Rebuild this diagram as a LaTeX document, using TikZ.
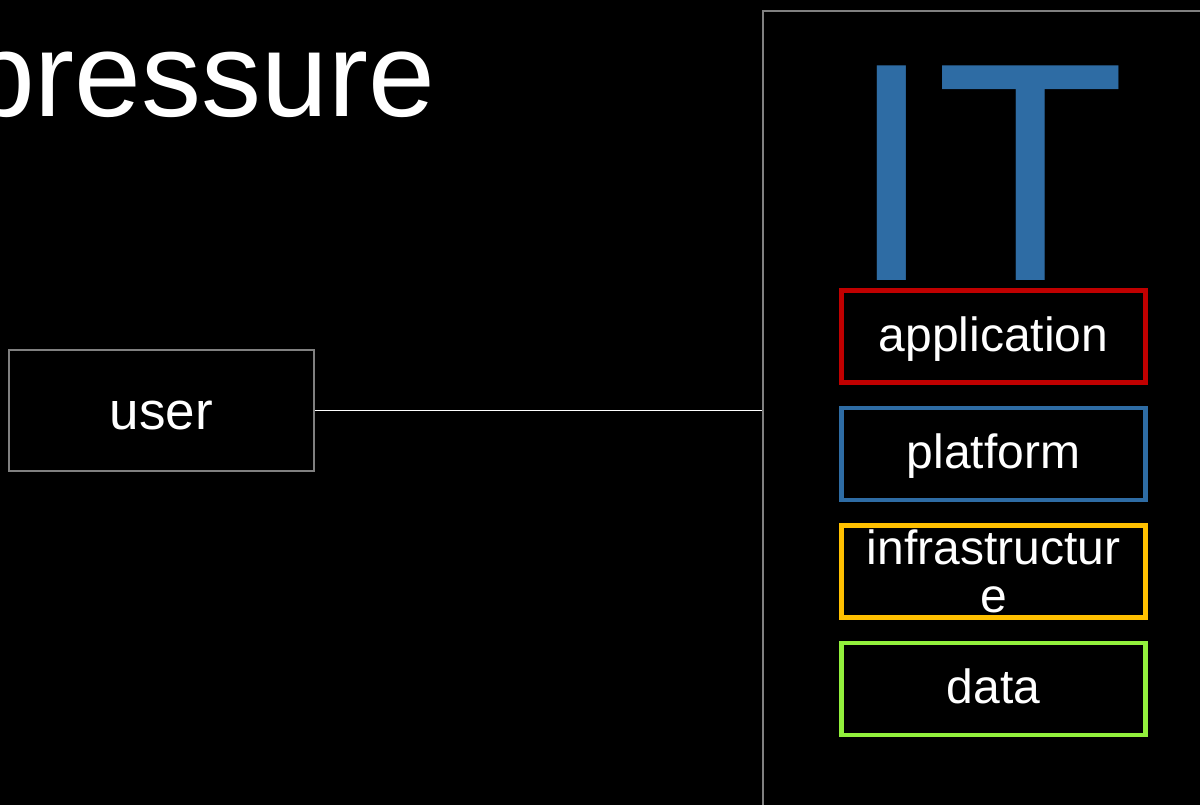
\documentclass[tikz,border=0pt]{standalone}
\usepackage{fontspec}
\setmainfont{Liberation Sans}
\usepackage{tikz}
\usetikzlibrary{positioning}
\definecolor{itblue}{RGB}{46,108,164}
\definecolor{appred}{RGB}{192,0,0}
\definecolor{infraorange}{RGB}{255,192,0}
\definecolor{datagreen}{RGB}{146,240,60}
\definecolor{framegray}{RGB}{128,128,128}
\begin{document}
\begin{tikzpicture}[x=1pt,y=-1pt,node distance=117.5pt,on grid,
   layer/.style={draw=#1,line width=4.5pt,minimum width=304pt,minimum height=92pt,
      inner sep=0pt,text=white,font=\fontsize{48}{48}\selectfont},
   layertext/.style={text height=38pt,text depth=9pt}]
   \useasboundingbox (0,0) rectangle (1200,805);
   \fill[black] (0,0) rectangle (1200,805);

   \node[anchor=base west,inner sep=0pt,text=white,font=\fontsize{120}{120}\selectfont] (title) at (-32,117) {pressure};

   \node[draw=framegray,line width=2pt,minimum width=480pt,minimum height=830pt,
      anchor=north west,inner sep=0pt] (it_box) at (762,10) {};
   \node[anchor=base,inner sep=0pt,text=itblue,font=\fontsize{312}{312}\selectfont] (it_label) at (987.5,280) {IT};

   \node[draw=framegray,line width=2pt,minimum width=305pt,minimum height=121pt,
      inner sep=0pt,text=white,font=\fontsize{53}{53}\selectfont,
      text height=37pt,text depth=0pt] (user) at (161.5,410.5) {user};

   \node[layer=appred,layertext] (l_app) at (993.5,336.5) {application};
   \node[layer=itblue,layertext] (l_plat) [below=of l_app] {platform};
   \node[layer=infraorange,label={[align=center,text=white,font=\fontsize{48}{48}\selectfont]center:infrastructur\\e}] (l_infra) [below=of l_plat] {};
   \node[layer=datagreen,layertext] (l_data) [below=of l_infra] {data};

   \path[draw=white,line width=1.7pt]
   (user) edge (user -| it_box.west);
\end{tikzpicture}
\end{document}
